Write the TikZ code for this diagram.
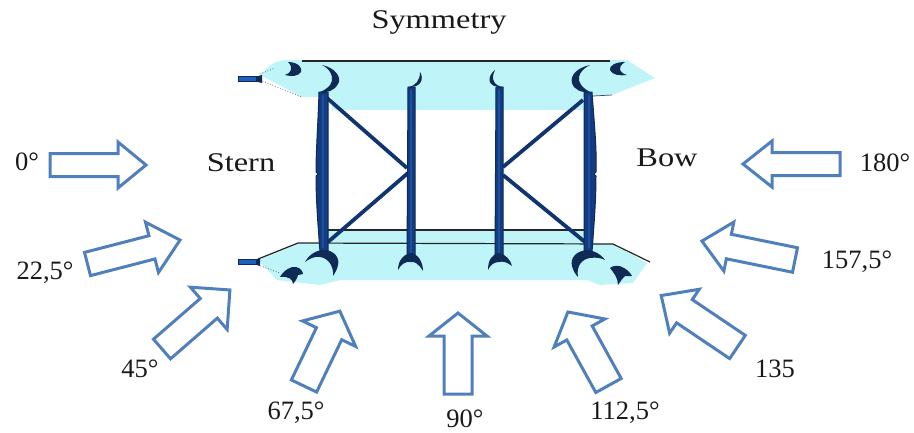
\documentclass[tikz,border=0pt]{standalone}
\usepackage{fontspec}
\setmainfont{Liberation Serif}
\definecolor{windblue}{HTML}{5080BC}
\definecolor{seacyan}{HTML}{BFF5F8}
\definecolor{navy}{HTML}{0E2A55}
\definecolor{colblue}{HTML}{123B80}
\definecolor{rodblue}{HTML}{1F5FC0}
\tikzset{
 lab/.style={font=\fontsize{26.5}{29}\selectfont,inner sep=0pt,text=black!90},
 word/.style={font=\fontsize{27}{29}\selectfont\addfontfeature{FakeStretch=1.2},inner sep=0pt,text=black!90},
 wind/.style={draw=windblue,line width=3pt,fill=white,line join=miter,miter limit=10},
 sea/.style={fill=seacyan,draw=none},
 crescent/.style={fill=navy,draw=none},
 deck/.style={draw=black!85,line width=1.2pt},
 column/.style={draw=navy,line width=1pt,fill=colblue},
 core/.style={draw=rodblue!85!black,line width=2pt},
 brace/.style={draw=navy!40!colblue,line width=3.8pt},
 rod/.style={fill=rodblue,draw=navy,line width=.8pt},
 faint/.style={draw=black!70,line width=.7pt,dotted},
}
% tail centre x, y, angle, length, body half-width, head half-width, head length
\newcommand{\windarrow}[7]{%
 \begin{scope}[shift={(#1,#2)},rotate={#3}]
  \draw[wind] (0,-#5) -- (#4-#7,-#5) -- (#4-#7,-#6) -- (#4,0) -- (#4-#7,#6) -- (#4-#7,#5) -- (0,#5) -- cycle;
 \end{scope}}
\begin{document}
\begin{tikzpicture}[x=1pt,y=-1pt]
\useasboundingbox (0,0) rectangle (914,432);
% sea regions, top
\fill[sea] (260,75) .. controls (268,68) and (272,61) .. (285,60) -- (627,60) -- (655,78) -- (612,95) -- (583,97) -- (583,110) -- (332,110) -- (332,97) -- (302,97) -- cycle;
% sea regions, bottom
\fill[sea] (325,230) -- (590,230) -- (590,243) -- (613,244) -- (647,263) -- (633,283) -- (600,285) -- (587,280) -- (340,280) -- (320,285) -- (277,280) -- (258,260) -- (298,243) -- (325,243) -- cycle;
% deck lines
\draw[deck] (302,61) -- (610,61);
\draw[deck] (325,230) -- (585,230);
\draw[deck] (258,259) -- (298,243) -- (613,244) -- (650,262);
\draw[draw=black!70,line width=.7pt] (593,96) -- (612,95);
\draw[faint] (260,74) -- (275,68);
\draw[faint] (260,80) -- (302,97);
\draw[faint] (258,265) -- (280,273);
% rods
\fill[rod] (238,76.5) rectangle (256,81.5);
\fill[navy] (256,76.5) -- (262,75) -- (262,83) -- (256,81.5) -- cycle;
\fill[rod] (238,259.5) rectangle (256,264.5);
\fill[navy] (256,259.5) -- (260,258) -- (260,266) -- (256,264.5) -- cycle;
% braces
\draw[brace] (327,98) -- (407,168);
\draw[brace] (408,173) -- (328,242);
\draw[brace] (583,100) -- (503,167);
\draw[brace] (503,175) -- (585,242);
% columns
\draw[column] (319,92) .. controls (318,125) and (316,150) .. (316,172) -- (318,174) -- (316,176) .. controls (316,200) and (318,225) .. (320,252) -- (328,252) -- (328,92) -- cycle;
\draw[column] (408,87) -- (415,87) -- (415,258) -- (407,258) -- cycle;
\draw[column] (496,87) -- (503,87) -- (503,258) -- (495,258) -- cycle;
\draw[column] (584,92) -- (592,92) .. controls (594,120) and (597,150) .. (596,172) -- (594,174) -- (596,176) .. controls (596,200) and (594,225) .. (592,252) -- (584,252) -- cycle;
\draw[core] (323,95) -- (323,248);
\draw[core] (411,90) -- (411,254);
\draw[core] (499,90) -- (499,254);
\draw[core] (589,95) -- (589,248);
% crescents, top
\fill[crescent] (322,65) .. controls (336,68) and (342,78) .. (338,84) .. controls (334,91) and (327,93) .. (320,92) .. controls (330,88) and (333,82) .. (332,77) .. controls (331,72) and (328,68) .. (322,65) -- cycle;
\fill[crescent] (288,62) .. controls (298,62) and (303,68) .. (301,72) .. controls (299,76) and (291,77) .. (285,75) .. controls (291,73) and (294,68) .. (288,62) -- cycle;
\fill[crescent] (420,72) .. controls (424,78) and (422,88) .. (408,87) .. controls (416,86) and (420,80) .. (420,72) -- cycle;
\fill[crescent] (590,65) .. controls (576,68) and (570,76) .. (572,83) .. controls (574,90) and (582,93) .. (590,92) .. controls (582,88) and (578,82) .. (579,77) .. controls (580,72) and (584,68) .. (590,65) -- cycle;
\fill[crescent] (625,62) .. controls (615,62) and (609,66) .. (610,70) .. controls (612,75) and (620,76) .. (627,75) .. controls (620,73) and (616,68) .. (625,62) -- cycle;
\fill[crescent] (495,70) .. controls (487,76) and (486,88) .. (503,87) .. controls (495,86) and (490,80) .. (495,70) -- cycle;
% crescents, bottom
\fill[crescent] (305,262) .. controls (310,253) and (318,250) .. (324,250) .. controls (334,250) and (340,258) .. (338,265) .. controls (337,270) and (335,273) .. (333,276) .. controls (334,266) and (328,258) .. (320,257) .. controls (314,256) and (309,259) .. (305,262) -- cycle;
\fill[crescent] (398,270) .. controls (398,260) and (404,254) .. (411,253) .. controls (418,254) and (423,262) .. (423,271) .. controls (419,264) and (414,261) .. (411,262) .. controls (406,261) and (401,264) .. (398,270) -- cycle;
\fill[crescent] (488,270) .. controls (488,260) and (492,254) .. (499,253) .. controls (505,254) and (511,260) .. (512,266) .. controls (507,262) and (503,261) .. (499,262) .. controls (494,262) and (490,265) .. (488,270) -- cycle;
\fill[crescent] (605,260) .. controls (600,253) and (592,250) .. (587,250) .. controls (576,251) and (570,258) .. (572,266) .. controls (573,270) and (575,274) .. (578,277) .. controls (576,266) and (582,259) .. (590,258) .. controls (596,257) and (601,258) .. (605,260) -- cycle;
\fill[crescent] (280,277) .. controls (284,270) and (291,266) .. (296,267) .. controls (301,268) and (303,272) .. (303,274) -- (298,275) .. controls (297,279) and (295,282) .. (293,284) .. controls (293,279) and (288,276) .. (280,277) -- cycle;
\fill[crescent] (610,268) .. controls (613,265) and (620,265) .. (624,268) .. controls (628,270) and (631,274) .. (632,276) -- (625,276) .. controls (622,279) and (620,282) .. (618,285) .. controls (618,278) and (614,273) .. (610,268) -- cycle;
% wind arrows
\windarrow{50}{165}{0}{96}{11.5}{23}{28}
\windarrow{87.5}{264}{14.5}{95.6}{12}{26}{29}
\windarrow{162}{349}{41}{90}{13}{28}{28}
\windarrow{304}{386}{64.4}{83}{14}{29.5}{25}
\windarrow{458}{394}{90}{81}{14}{29}{23}
\windarrow{608.5}{385.5}{118.9}{84}{14.5}{29}{24}
\windarrow{737.5}{347}{146}{92}{14}{26.5}{28}
\windarrow{795}{260}{168.5}{95}{12.5}{25}{27.5}
\windarrow{840}{164}{180}{97}{11.5}{23}{29}
% labels
\node[word] (sym) at (439,22) {Symmetry};
\node[word] (stern) at (241,163) {Stern};
\node[word] (bow) at (667,158) {Bow};
\node[lab] (a0) at (27,162) {0°};
\node[lab] (a22) at (45,273) {22,5°};
\node[lab] (a45) at (140,369) {45°};
\node[lab] (a67) at (296,413) {67,5°};
\node[lab] (a90) at (465,419) {90°};
\node[lab] (a112) at (625,413) {112,5°};
\node[lab] (a135) at (775,369) {135};
\node[lab] (a157) at (857,262) {157,5°};
\node[lab] (a180) at (885,163) {180°};
\end{tikzpicture}
\end{document}
